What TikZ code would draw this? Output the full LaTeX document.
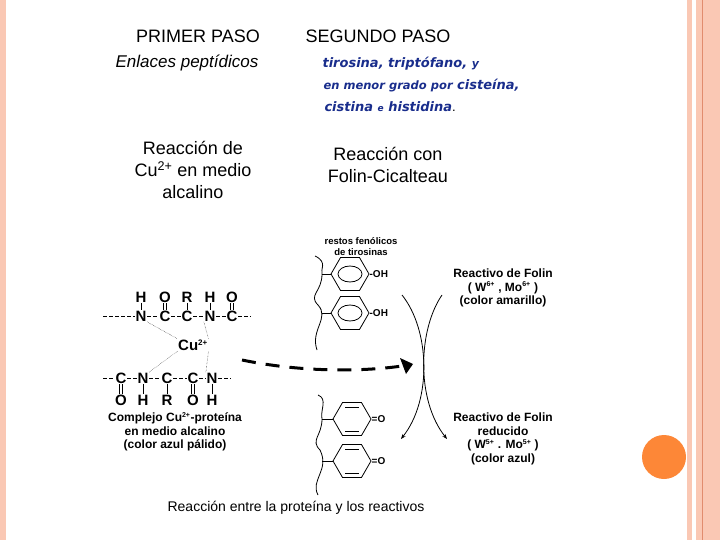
\documentclass[tikz,border=0pt]{standalone}
\usepackage{fontspec}
\setmainfont{Liberation Sans}
\newfontfamily\dejav{DejaVu Sans}
\usetikzlibrary{positioning, arrows.meta, shapes.geometric}
\definecolor{salmon}{RGB}{250,200,180}
\definecolor{salmondark}{RGB}{225,140,110}
\definecolor{dot}{RGB}{253,135,55}
\definecolor{navy}{RGB}{25,45,140}
\begin{document}
\begin{tikzpicture}
    [
        x=1pt, y=-1pt,
        head/.style={font=\fontsize{18}{21}\selectfont, align=center},
        paso_text/.style={font=\fontsize{18}{22}\selectfont, align=center},
        ital/.style={font=\dejav\bfseries\itshape\fontsize{13}{14}\selectfont, text=navy, anchor=west},
        chem/.style={font=\bfseries\fontsize{15}{16}\selectfont, inner sep=0.5pt},
        bond/.style={thick, dash pattern=on 4pt off 2pt},
        note/.style={font=\bfseries\fontsize{12}{13.5}\selectfont, align=center, inner sep=0pt},
        ring/.style={regular polygon, regular polygon sides=6, shape border rotate=0, draw, thick, minimum size=38pt, inner sep=0pt},
    ]
        \useasboundingbox (0,0) rectangle (720,540);
        % slide border
        \fill[salmon] (0,0) rectangle (6,540);
        \fill[salmon] (687,0) rectangle (692,540);
        \fill[salmon] (696,0) rectangle (720,540);
        \draw[salmondark, line width=0.8pt] (702,0) -- (702,540);
        \fill[dot] (664,457) circle (22);
        % headings
        \node[head] (p1) at (198,36) {PRIMER PASO};
        \node[head] (p2) at (378,36) {SEGUNDO PASO};
        \node[head, font=\itshape\fontsize{17}{20}\selectfont] (enl) at (187,63) {Enlaces peptídicos};
        \node[ital] (tir) at (319,64) {tirosina, triptófano, {\fontsize{11}{12}\selectfont y}};
        \node[ital] (cis) at (320,86) {{\fontsize{11.5}{12}\selectfont en menor grado por} cisteína,};
        \node[ital] (his) at (321,107) {cistina {\fontsize{9}{10}\selectfont e} histidina{\normalfont\color{black}.}};
        \node[paso_text] (r1) at (193,170) {Reacción de\\Cu\textsuperscript{2+} en medio\\alcalino};
        \node[paso_text] (r2) at (388,165) {Reacción con\\Folin-Cicalteau};
        % copper complex, upper chain
        \coordinate (tl) at (103,316);
        \coordinate (tr) at (251,316);
        \foreach \lx/\lt [count=\i] in {141/N, 165/C, 187/C, 210/N, 232/C}
            \node[chem] (ta\i) at (\lx,316) {\lt};
        \draw[bond] (tl) -- (ta1) -- (ta2) -- (ta3) -- (ta4) -- (ta5) -- (tr);
        \foreach \lx/\lt [count=\i] in {141/H, 165/O, 187/R, 210/H, 232/O}
            \node[chem] (tb\i) at (\lx,297) {\lt};
        \foreach \i in {2,5}
            \draw[thick] ([xshift=-1.5pt]tb\i.south) -- ([xshift=-1.5pt]ta\i.north) ([xshift=1.5pt]tb\i.south) -- ([xshift=1.5pt]ta\i.north);
        \foreach \i in {1,3,4}
            \draw[thick] (tb\i) -- (ta\i);
        \node[chem] (cu) at (193,345) {Cu\textsuperscript{\footnotesize 2+}};
        % lower chain
        \coordinate (bl) at (103,378);
        \coordinate (br) at (231,378);
        \foreach \lx/\lt [count=\i] in {121/C, 143/N, 167/C, 193/C, 212/N}
            \node[chem] (ba\i) at (\lx,378) {\lt};
        \draw[bond] (bl) -- (ba1) -- (ba2) -- (ba3) -- (ba4) -- (ba5) -- (br);
        \foreach \lx/\lt [count=\i] in {121/O, 143/H, 167/R, 193/O, 212/H}
            \node[chem] (bb\i) at (\lx,400) {\lt};
        \foreach \i in {1,4}
            \draw[thick] ([xshift=-1.5pt]ba\i.south) -- ([xshift=-1.5pt]bb\i.north) ([xshift=1.5pt]ba\i.south) -- ([xshift=1.5pt]bb\i.north);
        \foreach \i in {2,3,5}
            \draw[thick] (ba\i) -- (bb\i);
        \draw[densely dotted] (ta1.south east) -- (cu.north west) (ta4.south west) -- (cu.north east)
            (ba2.north east) -- (cu.south west) (ba5.north west) -- (cu.south east);
        \node[note] (cpx) at (175,432) {Complejo Cu\textsuperscript{\scriptsize 2+}-proteína\\en medio alcalino\\(color azul pálido)};
        % tyrosine residues
        \node[note, font=\bfseries\fontsize{9.5}{11}\selectfont] (rest) at (361,247) {restos fenólicos\\de tirosinas};
        \draw[thick] (315,256) .. controls (328,262) and (320,270) .. (322,274)
            .. controls (322,292) and (308,295) .. (318,305)
            .. controls (330,318) and (310,330) .. (317,350);
        \foreach \ry [count=\i] in {274,313} {
            \node[ring] (ph\i) at (350,\ry) {};
            \node[draw, thick, ellipse, minimum width=24pt, minimum height=16pt] at (350,\ry) {};
            \draw[thick] (322,\ry) -- (ph\i.west);
            \node[chem, font=\bfseries\fontsize{10}{11}\selectfont, anchor=west, inner sep=0pt] (oh\i) at (ph\i.east) {-OH};
        }
        \draw[thick] (318,395) .. controls (328,399) and (320,410) .. (322,419)
            .. controls (322,436) and (310,440) .. (320,450)
            .. controls (330,470) and (310,480) .. (318,495);
        \foreach \ry [count=\i] in {419,461} {
            \node[ring] (qn\i) at (352,\ry) {};
            \draw[thick] (345,\ry-12) -- (359,\ry-12) (345,\ry+12) -- (359,\ry+12);
            \draw[thick] (322,\ry) -- (qn\i.west);
            \node[chem, font=\bfseries\fontsize{10}{11}\selectfont, anchor=west, inner sep=0pt] (oq\i) at (qn\i.east) {=O};
        }
        % redox arrows
        \coordinate (a1) at (402,295);
        \coordinate (a2) at (442,295);
        \coordinate (e1) at (401,439);
        \coordinate (e2) at (447,439);
        \draw[thick, -{Stealth[length=5pt]}] (a1) .. controls (430,330) and (432,400) .. (e1);
        \draw[thick, -{Stealth[length=5pt]}] (a2) .. controls (418,330) and (416,400) .. (e2);
        \coordinate (d0) at (242,360);
        \coordinate (d1) at (402,366);
        \draw[line width=3pt, dash pattern=on 14pt off 10pt] (d0) .. controls (300,372) and (360,372) .. (d1);
        \fill (400,358) -- (413,364) -- (406,374) -- cycle;
        \node[note] (f1) at (503,288) {Reactivo de Folin\\( W\textsuperscript{\scriptsize 6+} , Mo\textsuperscript{\scriptsize 6+} )\\(color amarillo)};
        \node[note] (f2) at (503,439) {Reactivo de Folin\\reducido\\( W\textsuperscript{\scriptsize 5+} . Mo\textsuperscript{\scriptsize 5+} )\\(color azul)};
        \node[font=\fontsize{14}{16}\selectfont] (cap) at (296,508) {Reacción entre la proteína y los reactivos};
\end{tikzpicture}
\end{document}
